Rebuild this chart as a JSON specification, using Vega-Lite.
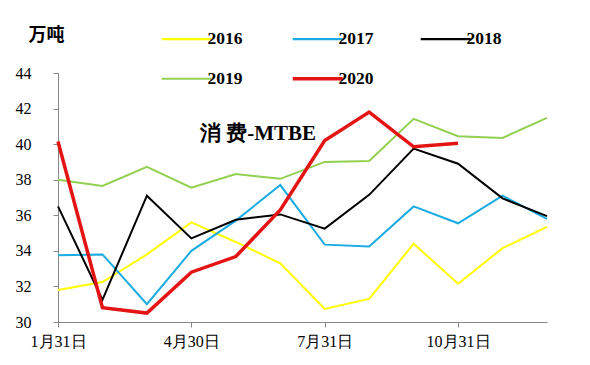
{
  "$schema": "https://vega.github.io/schema/vega-lite/v6.json",
  "width": 489,
  "height": 249,
  "autosize": "none",
  "padding": {"left": 58, "top": 73, "right": 43, "bottom": 43},
  "background": "white",
  "config": {
    "view": {"stroke": null},
    "font": "Liberation Serif"
  },
  "title": {
    "text": "消 费-MTBE", "orient": "top", "anchor": "start", "frame": "group",
    "offset": 0, "dx": 142, "dy": 135, "baseline": "alphabetic",
    "font": "Liberation Serif", "fontSize": 21, "fontWeight": "bold", "color": "#000000"
  },
  "data": {
    "values": [
      {"m": 1, "year": "2016", "v": 31.8}, {"m": 2, "year": "2016", "v": 32.25}, {"m": 3, "year": "2016", "v": 33.8}, {"m": 4, "year": "2016", "v": 35.6}, {"m": 5, "year": "2016", "v": 34.5}, {"m": 6, "year": "2016", "v": 33.3}, {"m": 7, "year": "2016", "v": 30.73}, {"m": 8, "year": "2016", "v": 31.3}, {"m": 9, "year": "2016", "v": 34.4}, {"m": 10, "year": "2016", "v": 32.15}, {"m": 11, "year": "2016", "v": 34.15}, {"m": 12, "year": "2016", "v": 35.35},
      {"m": 1, "year": "2017", "v": 33.75}, {"m": 2, "year": "2017", "v": 33.8}, {"m": 3, "year": "2017", "v": 31.0}, {"m": 4, "year": "2017", "v": 34.0}, {"m": 5, "year": "2017", "v": 35.7}, {"m": 6, "year": "2017", "v": 37.7}, {"m": 7, "year": "2017", "v": 34.35}, {"m": 8, "year": "2017", "v": 34.25}, {"m": 9, "year": "2017", "v": 36.5}, {"m": 10, "year": "2017", "v": 35.55}, {"m": 11, "year": "2017", "v": 37.1}, {"m": 12, "year": "2017", "v": 35.8},
      {"m": 1, "year": "2018", "v": 36.5}, {"m": 2, "year": "2018", "v": 31.25}, {"m": 3, "year": "2018", "v": 37.1}, {"m": 4, "year": "2018", "v": 34.7}, {"m": 5, "year": "2018", "v": 35.75}, {"m": 6, "year": "2018", "v": 36.05}, {"m": 7, "year": "2018", "v": 35.25}, {"m": 8, "year": "2018", "v": 37.15}, {"m": 9, "year": "2018", "v": 39.75}, {"m": 10, "year": "2018", "v": 38.9}, {"m": 11, "year": "2018", "v": 36.95}, {"m": 12, "year": "2018", "v": 35.95},
      {"m": 1, "year": "2019", "v": 38.0}, {"m": 2, "year": "2019", "v": 37.65}, {"m": 3, "year": "2019", "v": 38.72}, {"m": 4, "year": "2019", "v": 37.55}, {"m": 5, "year": "2019", "v": 38.32}, {"m": 6, "year": "2019", "v": 38.05}, {"m": 7, "year": "2019", "v": 39.0}, {"m": 8, "year": "2019", "v": 39.05}, {"m": 9, "year": "2019", "v": 41.42}, {"m": 10, "year": "2019", "v": 40.45}, {"m": 11, "year": "2019", "v": 40.35}, {"m": 12, "year": "2019", "v": 41.48},
      {"m": 1, "year": "2020", "v": 40.15}, {"m": 2, "year": "2020", "v": 30.8}, {"m": 3, "year": "2020", "v": 30.5}, {"m": 4, "year": "2020", "v": 32.8}, {"m": 5, "year": "2020", "v": 33.68}, {"m": 6, "year": "2020", "v": 36.3}, {"m": 7, "year": "2020", "v": 40.2}, {"m": 8, "year": "2020", "v": 41.8}, {"m": 9, "year": "2020", "v": 39.85}, {"m": 10, "year": "2020", "v": 40.05}
    ]
  },
  "mark": {"type": "line", "clip": false},
  "encoding": {
    "x": {
      "field": "m", "type": "quantitative",
      "scale": {"domain": [1, 12], "nice": false, "zero": false},
      "axis": {
        "values": [1, 4, 7, 10],
        "labelExpr": "datum.value == 1 ? '1月31日' : datum.value == 4 ? '4月30日' : datum.value == 7 ? '7月31日' : '10月31日'",
        "title": null, "grid": false,
        "domainColor": "#868686", "tickColor": "#868686", "tickSize": 5,
        "labelFont": "Liberation Serif", "labelFontSize": 16, "labelColor": "#000000", "labelPadding": 6,
        "labelFlush": false, "labelOverlap": false
      }
    },
    "y": {
      "field": "v", "type": "quantitative",
      "scale": {"domain": [30, 44], "nice": false, "zero": false},
      "axis": {
        "values": [30, 32, 34, 36, 38, 40, 42, 44],
        "grid": false, "labelOverlap": false,
        "domainColor": "#868686", "tickColor": "#868686", "tickSize": 5,
        "labelFont": "Liberation Serif", "labelFontSize": 16, "labelColor": "#000000", "labelPadding": 22,
        "title": "万吨", "titleAngle": 0, "titleX": -12, "titleY": -38,
        "titleAlign": "center", "titleBaseline": "middle",
        "titleFont": "Noto Sans CJK SC", "titleFontSize": 18, "titleFontWeight": "bold", "titleColor": "#000000"
      }
    },
    "color": {
      "field": "year", "type": "nominal",
      "scale": {"domain": ["2016", "2017", "2018", "2019", "2020"], "range": ["#FFFF00", "#1AABE2", "#000000", "#92D050", "#E41414"]},
      "legend": {
        "orient": "none", "legendX": 120, "legendY": -43,
        "direction": "horizontal", "columns": 3, "columnPadding": 42, "rowPadding": 21,
        "title": null, "symbolType": "stroke", "symbolSize": 2500, "symbolStrokeWidth": 2.5,
        "labelFont": "Liberation Serif", "labelFontSize": 17.5, "labelFontWeight": "bold", "labelColor": "#000000", "labelOffset": 12,
        "encode": {"symbols": {"update": {"strokeWidth": {"signal": "datum.value === '2020' ? 3.5 : 2.2"}}}}
      }
    },
    "strokeWidth": {"condition": {"test": "datum.year === '2020'", "value": 3.5}, "value": 2}
  }
}
